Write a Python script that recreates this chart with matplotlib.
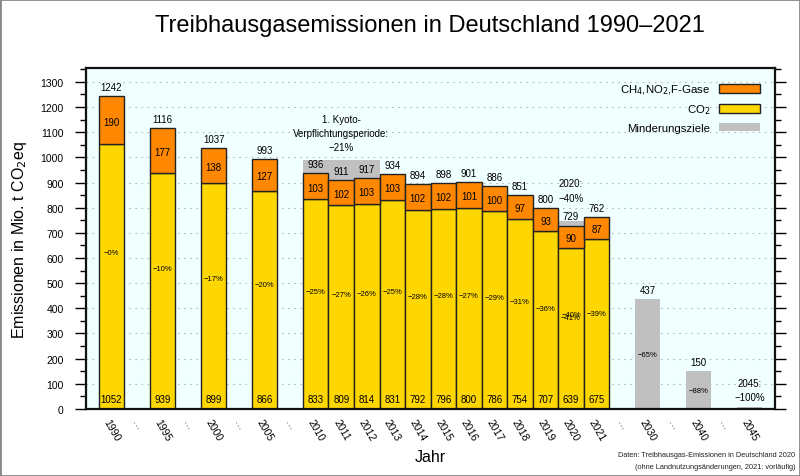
import matplotlib
matplotlib.use("Agg")
import matplotlib.pyplot as plt
from matplotlib.patches import Rectangle, Patch
from matplotlib.ticker import MultipleLocator

plt.rcParams['font.family'] = ['Liberation Sans', 'DejaVu Sans']

# Kategorien auf der x-Achse ("…" = Lücke)
slots = ["1990", "…", "1995", "…", "2000", "…", "2005", "…",
         "2010", "2011", "2012", "2013", "2014", "2015", "2016", "2017",
         "2018", "2019", "2020", "2021", "…", "2030", "…", "2040", "…", "2045"]

# Emissionsdaten
years = ["1990", "1995", "2000", "2005", "2010", "2011", "2012", "2013",
         "2014", "2015", "2016", "2017", "2018", "2019", "2020", "2021"]
co2 = [1052, 939, 899, 866, 833, 809, 814, 831, 792, 796, 800, 786, 754, 707, 639, 675]
other = [190, 177, 138, 127, 103, 102, 103, 103, 102, 102, 101, 100, 97, 93, 90, 87]
total = [1242, 1116, 1037, 993, 936, 911, 917, 934, 894, 898, 901, 886, 851, 800, 729, 762]
pct = ["−0%", "−10%", "−17%", "−20%", "−25%", "−27%", "−26%", "−25%",
       "−28%", "−28%", "−27%", "−29%", "−31%", "−36%", "−41%", "−39%"]

# Minderungsziele
target_years = ["2010", "2011", "2012", "2020", "2030", "2040", "2045"]
target_values = [990, 990, 990, 748, 437, 150, 8]
target_pct = ["", "", "", "−40%", "−65%", "−88%", ""]
target_value_labels = ["", "", "", "", "437", "150", ""]
target_notes = {"2011": "1. Kyoto-\nVerpflichtungsperiode:\n−21%",
                "2020": "2020:\n−40%",
                "2045": "2045:\n−100%"}

c_other = "#ff8800"
c_co2 = "#ffd700"
c_target = "#c0c0c0"

fig = plt.figure(figsize=(8, 4.77), dpi=100)
ax = fig.add_axes([0.1075, 0.1405, 0.8615, 0.7148])
ax.set_facecolor("#f0ffff")

xpos = {}
for i, s in enumerate(slots):
    if s != "…":
        xpos[s] = i

# Zielbalken (hinten)
tx = [xpos[y] for y in target_years]
ax.bar(tx, target_values, width=1.0, color=c_target, zorder=1)
for x, v, p, lab in zip(tx, target_values, target_pct, target_value_labels):
    if p:
        ax.text(x, v / 2, p, ha="center", va="center", fontsize=5.5, zorder=5)
    if lab:
        ax.annotate(lab, (x, v), xytext=(0, 3), textcoords="offset points",
                    ha="center", va="bottom", fontsize=7)

# Emissionsbalken
ex = [xpos[y] for y in years]
ax.bar(ex, co2, width=1.0, color=c_co2, edgecolor="#222222", linewidth=1, zorder=2)
ax.bar(ex, other, bottom=co2, width=1.0, color=c_other, edgecolor="#222222",
       linewidth=1, zorder=2)

for x, c, o, t, p in zip(ex, co2, other, total, pct):
    ax.annotate(str(t), (x, t), xytext=(0, 3), textcoords="offset points",
                ha="center", va="bottom", fontsize=7, zorder=5)
    ax.text(x, c + o / 2 - 5, str(o), ha="center", va="center", fontsize=7, zorder=5)
    ax.text(x, 38, str(c), ha="center", va="center", fontsize=7, zorder=5)
    ax.text(x, t / 2, p, ha="center", va="center", fontsize=5.5, zorder=5)

# Anmerkungen zu den Zielen
ax.text(xpos["2011"], 1020, target_notes["2011"], ha="center", va="bottom",
        fontsize=7, linespacing=1.55)
ax.text(xpos["2020"], 820, target_notes["2020"], ha="center", va="bottom",
        fontsize=7, linespacing=1.55)
ax.text(xpos["2045"], 28, target_notes["2045"], ha="center", va="bottom",
        fontsize=7, linespacing=1.55)

ax.set_xlim(-1, len(slots))
ax.set_ylim(0, 1355)
ax.set_xticks(range(len(slots)))
ax.set_xticklabels(slots, rotation=-60, fontsize=7.5)
ax.tick_params(axis="x", length=0, pad=6)

ax.yaxis.set_major_locator(MultipleLocator(100))
ax.yaxis.set_minor_locator(MultipleLocator(50))
ax.tick_params(axis="y", which="major", length=8, width=1, labelsize=7.5,
               right=True, direction="out", pad=8)
ax.tick_params(axis="y", which="minor", length=4, width=1, right=True, direction="out")
ax.grid(axis="y", which="major", color="#b8b8b8", linestyle=(0, (1.5, 4)),
        linewidth=0.8, zorder=0)
ax.set_axisbelow(True)
for sp in ax.spines.values():
    sp.set_linewidth(1.6)
    sp.set_color("#111111")

ax.set_ylabel("Emissionen in Mio. t CO$_2$eq", fontsize=11.5, labelpad=8)
fig.text(0.538, 0.025, "Jahr", ha="center", va="bottom", fontsize=11.5)
fig.text(0.538, 0.945, "Treibhausgasemissionen in Deutschland 1990–2021",
         ha="center", va="center", fontsize=17)
fig.text(0.994, 0.038, "Daten: Treibhausgas-Emissionen in Deutschland 2020",
         ha="right", va="bottom", fontsize=5.3, color="#222222")
fig.text(0.994, 0.012, "(ohne Landnutzungsänderungen, 2021: vorläufig)",
         ha="right", va="bottom", fontsize=5.3, color="#222222")

handles = [Patch(facecolor=c_other, edgecolor="#222222"),
           Patch(facecolor=c_co2, edgecolor="#222222"),
           Patch(facecolor=c_target, edgecolor="none")]
labels = ["CH$_4$,NO$_2$,F-Gase", "CO$_2$", "Minderungsziele"]
ax.legend(handles, labels, loc="upper right", frameon=False, markerfirst=False,
          fontsize=8.2, handlelength=3.6, handleheight=0.8, labelspacing=0.55,
          borderaxespad=0.9, handletextpad=0.8)

fig.patches.append(Rectangle((0, 0), 1, 1, transform=fig.transFigure, fill=False,
                             edgecolor="#888888", linewidth=2))

fig.savefig("out.png", dpi=100)
